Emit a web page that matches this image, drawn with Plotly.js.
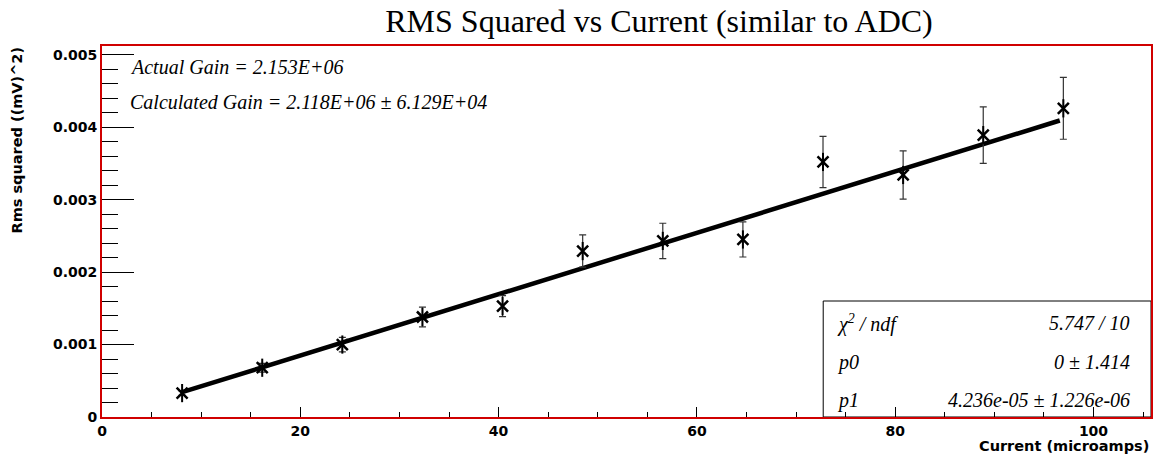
<!DOCTYPE html>
<html>
<head>
<meta charset="utf-8">
<script src="https://cdn.plot.ly/plotly-3.0.1.min.js"></script>
<style>html,body{margin:0;padding:0;background:#fff;}</style>
</head>
<body>
<div id="chart" style="width:1161px;height:458px;"></div>
<script>
// ---- data ----
const current = [8.08, 16.16, 24.24, 32.32, 40.4, 48.48, 56.56, 64.64, 72.72, 80.8, 88.88, 96.96];
const rmsSquared = [0.00033, 0.00068, 0.00100, 0.00138, 0.00153, 0.00229, 0.00243, 0.00245, 0.00352, 0.00334, 0.00389, 0.00426];
const rmsError = [0.00003, 0.00006, 0.00010, 0.000136, 0.000145, 0.000223, 0.000244, 0.000242, 0.000354, 0.000334, 0.00039, 0.000427];
const fitP0 = 0;
const fitP1 = 4.236e-05;
const fitRange = [8.08, 96.6];
const gainLabels = ['Actual Gain = 2.153E+06', 'Calculated Gain = 2.118E+06 \u00b1 6.129E+04'];
const statsNames = ['\u03c7<sup>2</sup> / ndf', 'p0', 'p1'];
const statsValues = ['5.747 / 10', '0 \u00b1 1.414', '4.236e-05 \u00b1 1.226e-06'];
const chartTitle = 'RMS Squared vs Current (similar to ADC)';
const xTitle = 'Current (microamps)';
const yTitle = 'Rms squared ((mV)^2)';

// ---- layout geometry (pixels) ----
const W = 1161, H = 458;
const L = 102, R = 1150.7, T = 46, B = 417;
const px = x => (x - L) / (R - L);
const py = y => (B - y) / (B - T);

const fitX = fitRange;
const fitY = fitX.map(x => fitP0 + fitP1 * x);

const tickFont = {family: 'DejaVu Sans', size: 14, color: '#000', weight: 'bold'};
const axTitleFont = {family: 'DejaVu Sans', size: 14.5, color: '#000', weight: 'bold'};

const traces = [
  {
    x: fitX, y: fitY, type: 'scatter', mode: 'lines',
    line: {color: '#000', width: 4.5}, hoverinfo: 'skip', showlegend: false
  },
  {
    x: current, y: rmsSquared, type: 'scatter', mode: 'markers',
    error_y: {type: 'data', array: rmsError, visible: true, color: '#333', thickness: 1.2, width: 3.5},
    marker: {symbol: 'x-thin-open', size: 11, color: '#000', line: {color: '#000', width: 2.5}},
    showlegend: false
  },
  {
    x: current, y: rmsSquared, type: 'scatter', mode: 'markers',
    marker: {symbol: 'line-ns-open', size: 13, color: '#000', line: {color: '#000', width: 2}},
    showlegend: false, hoverinfo: 'skip'
  }
];

const annotations = [];
gainLabels.forEach((t, i) => {
  annotations.push({
    text: '<i>' + t + '</i>', xref: 'paper', yref: 'paper',
    x: px(128), y: py([67, 102][i]), xanchor: 'left', yanchor: 'middle',
    showarrow: false, font: {family: 'Liberation Serif', size: 20, color: '#000'}
  });
});
const rowY = [323, 362, 400];
statsNames.forEach((t, i) => {
  annotations.push({
    text: '<i>' + t + '</i>', xref: 'paper', yref: 'paper',
    x: px(835), y: py(rowY[i]), xanchor: 'left', yanchor: 'middle',
    showarrow: false, font: {family: 'Liberation Serif', size: 20, color: '#000'}
  });
  annotations.push({
    text: '<i>' + statsValues[i] + '</i>', xref: 'paper', yref: 'paper',
    x: px(1132), y: py(rowY[i]), xanchor: 'right', yanchor: 'middle',
    showarrow: false, font: {family: 'Liberation Serif', size: 20, color: '#000'}
  });
});
annotations.push({
  text: xTitle, xref: 'paper', yref: 'paper', x: 1, y: py(446),
  xanchor: 'right', yanchor: 'middle', showarrow: false, font: axTitleFont
});
annotations.push({
  text: yTitle, xref: 'paper', yref: 'paper', x: px(18), y: py(44),
  xanchor: 'center', yanchor: 'top', textangle: -90, showarrow: false, font: axTitleFont
});

const layout = {
  width: W, height: H,
  margin: {l: L, r: W - R, t: T, b: H - B, pad: 0},
  paper_bgcolor: '#fff', plot_bgcolor: '#fff',
  title: {
    text: chartTitle, xref: 'container', yref: 'container',
    x: 659 / W, xanchor: 'center', y: 1 - 21 / H, yanchor: 'middle',
    font: {family: 'Liberation Serif', size: 32, color: '#000'}
  },
  xaxis: {
    range: [0, 105.8], tick0: 0, dtick: 20, ticks: 'inside', ticklen: 10, tickwidth: 1, tickcolor: '#000',
    showline: true, linecolor: '#d00000', linewidth: 2, mirror: true,
    showgrid: false, zeroline: false, tickfont: tickFont,
    minor: {dtick: 5, ticks: 'inside', ticklen: 5, tickcolor: '#000', tickwidth: 1, showgrid: false}
  },
  yaxis: {
    range: [0, 0.00512], tick0: 0, dtick: 0.001, ticks: 'inside', ticklen: 32, tickwidth: 1, tickcolor: '#000',
    showline: true, linecolor: '#d00000', linewidth: 2, mirror: true,
    showgrid: false, zeroline: false, tickfont: tickFont,
    minor: {dtick: 0.0002, ticks: 'inside', ticklen: 16, tickcolor: '#000', tickwidth: 1, showgrid: false}
  },
  shapes: [{
    type: 'rect', xref: 'paper', yref: 'paper',
    x0: px(823), x1: 1, y0: 0, y1: py(301),
    line: {color: '#000', width: 1}, fillcolor: '#fff', layer: 'below'
  }],
  annotations: annotations
};

Plotly.newPlot('chart', traces, layout, {displayModeBar: false, staticPlot: true});
</script>
</body>
</html>
